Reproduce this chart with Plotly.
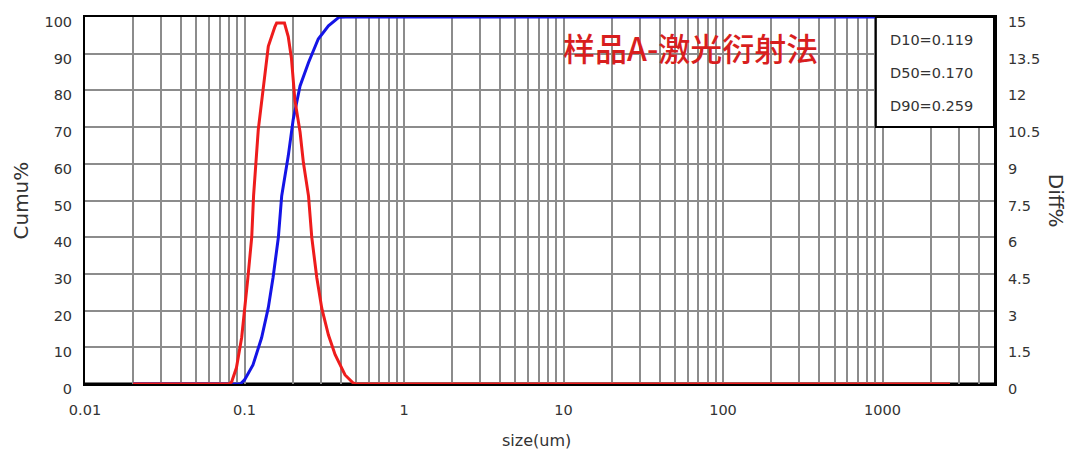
import plotly.graph_objects as go

# ---- data ----
diff_size = [0.02, 0.08, 0.083, 0.089, 0.096, 0.1, 0.105, 0.111, 0.114, 0.122, 0.134, 0.141,
             0.155, 0.159, 0.178, 0.188, 0.197, 0.207, 0.223, 0.234, 0.252, 0.264, 0.284,
             0.305, 0.336, 0.37, 0.427, 0.48, 0.5, 2650]
diff_pct = [0, 0, 0.08, 0.66, 1.9, 2.95, 4.34, 6.0, 7.7, 10.4, 12.6, 13.8,
            14.6, 14.75, 14.75, 14.2, 13.3, 11.6, 10.3, 9.05, 7.68, 6.0, 4.34,
            3.1, 2.0, 1.2, 0.37, 0.04, 0, 0]

cumu_size = [0.02, 0.094, 0.1, 0.113, 0.128, 0.141, 0.151, 0.163, 0.171, 0.188, 0.202,
             0.223, 0.252, 0.29, 0.336, 0.39, 0.43, 2650]
cumu_pct = [0, 0, 1.1, 5.2, 12.6, 20.8, 29, 39.9, 51.2, 62.1, 72.1,
            81.2, 87.6, 94, 97.6, 99.9, 100, 100]

x_major = [0.01, 0.1, 1, 10, 100, 1000]
x_major_labels = ["0.01", "0.1", "1", "10", "100", "1000"]
y_left_ticks = [0, 10, 20, 30, 40, 50, 60, 70, 80, 90, 100]
y_right_ticks = [0, 1.5, 3, 4.5, 6, 7.5, 9, 10.5, 12, 13.5, 15]
y_right_labels = ["0", "1.5", "3", "4.5", "6", "7.5", "9", "10.5", "12", "13.5", "15"]

title_text = "样品A-激光衍射法"
stats_text = ["D10=0.119", "D50=0.170", "D90=0.259"]

# grid positions 1..9 per decade
x_grid = []
for d in x_major:
    for m in range(1, 10):
        v = round(d * m, 6)
        if v <= 5000:
            x_grid.append(v)
x_grid_labels = [x_major_labels[x_major.index(v)] if v in x_major else "" for v in x_grid]

FONT = "DejaVu Sans"
TICKC = "#333333"

fig = go.Figure()
fig.add_trace(go.Scatter(x=diff_size, y=diff_pct, mode="lines", yaxis="y2",
                         line=dict(color="#ee1c1c", width=3), showlegend=False))
fig.add_trace(go.Scatter(x=cumu_size, y=cumu_pct, mode="lines", yaxis="y",
                         line=dict(color="#1414e6", width=3), showlegend=False))

# page body adds an 8px offset, so the figure is 8px smaller and margins shifted
fig.update_layout(
    width=1072, height=446,
    margin=dict(l=77, r=86, t=9, b=70, autoexpand=False),
    paper_bgcolor="white", plot_bgcolor="white",
    font=dict(family=FONT, size=14, color=TICKC),
    xaxis=dict(type="log", range=[-2, 3.69897], tickvals=x_grid, ticktext=x_grid_labels,
               showgrid=True, gridcolor="#8c8c8c", gridwidth=1.5,
               showline=True, linecolor="black", linewidth=2, mirror=True,
               ticks="", ticklabelstandoff=12, tickfont=dict(size=14.5, color=TICKC),
               ticklabeloverflow="allow", zeroline=False, automargin=False),
    yaxis=dict(range=[0, 100], tickvals=y_left_ticks, showgrid=True, gridcolor="#8c8c8c",
               gridwidth=1.5, showline=True, linecolor="black", linewidth=2, mirror=False,
               ticks="", ticklabelstandoff=8, ticklabelshift=5, ticklabeloverflow="allow",
               tickfont=dict(size=14.5, color=TICKC), zeroline=False, automargin=False),
    yaxis2=dict(range=[0, 15], tickvals=y_right_ticks, ticktext=y_right_labels,
                overlaying="y", side="right", showgrid=False,
                showline=True, linecolor="black", linewidth=3,
                ticks="", ticklabelstandoff=8, ticklabelshift=5, ticklabeloverflow="allow",
                tickfont=dict(size=14.5, color=TICKC), zeroline=False, automargin=False),
)

# white area behind the title
fig.add_shape(type="rect", xref="paper", yref="paper", x0=0.5116, x1=0.87, y0=0.85, y1=0.995,
              fillcolor="white", line=dict(width=0), layer="between")
# stats box
fig.add_shape(type="rect", xref="paper", yref="paper", x0=0.870, x1=1.0, y0=0.70, y1=1.0,
              fillcolor="white", line=dict(color="black", width=2), layer="above")
# bottom axis line emphasised
fig.add_shape(type="line", xref="paper", yref="paper", x0=0, x1=1, y0=0, y1=0,
              line=dict(color="black", width=3), layer="below")

fig.add_annotation(text=title_text, xref="paper", yref="paper", x=0.6656, y=0.918,
                   xanchor="center", yanchor="middle", showarrow=False,
                   font=dict(family="Noto Sans CJK SC", size=32, color="#d81e1e", weight=500))

for i, s in enumerate(stats_text):
    fig.add_annotation(text=s, xref="paper", yref="paper", x=0.8834, y=[0.937, 0.847, 0.757][i],
                       xanchor="left", yanchor="middle", showarrow=False,
                       font=dict(family=FONT, size=14.5, color=TICKC))

fig.add_annotation(text="Cumu%", xref="paper", yref="paper", x=-0.0715, y=0.5,
                   xanchor="center", yanchor="middle", textangle=-90, showarrow=False,
                   font=dict(family=FONT, size=20, color=TICKC))
fig.add_annotation(text="Diff%", xref="paper", yref="paper", x=1.069, y=0.5,
                   xanchor="center", yanchor="middle", textangle=90, showarrow=False,
                   font=dict(family=FONT, size=20, color=TICKC))
fig.add_annotation(text="size(um)", xref="paper", yref="paper", x=0.497, y=-0.1526,
                   xanchor="center", yanchor="middle", showarrow=False,
                   font=dict(family=FONT, size=16, color=TICKC))

fig.write_html("out.html")
